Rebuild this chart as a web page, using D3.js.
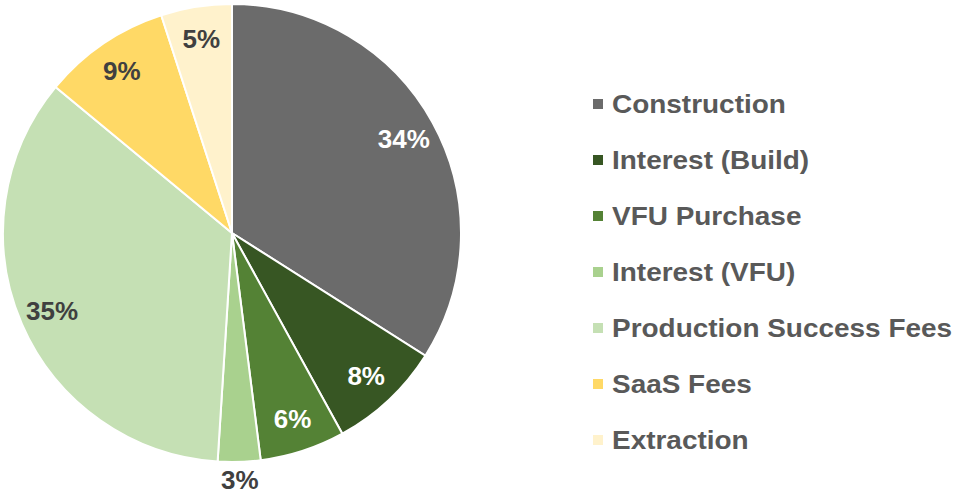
<!DOCTYPE html>
<html>
<head>
<meta charset="utf-8">
<script src="https://cdn.jsdelivr.net/npm/d3@7"></script>
<style>
  html, body { margin: 0; padding: 0; background: #fff; }
  svg { display: block; }
  text { font-family: "Liberation Sans", Arial, sans-serif; font-weight: bold; }
</style>
</head>
<body>
<svg id="chart" width="954" height="496"></svg>
<script>
const categories = ["Construction", "Interest (Build)", "VFU Purchase", "Interest (VFU)", "Production Success Fees", "SaaS Fees", "Extraction"];
const values = [34, 8, 6, 3, 35, 9, 5];
const colors = ["#6b6b6b", "#375623", "#548235", "#a9d18e", "#c5e0b4", "#ffd966", "#fff2cc"];
const labelColors = ["#ffffff", "#ffffff", "#ffffff", "#404040", "#404040", "#404040", "#404040"];

const svg = d3.select("#chart");
const cx = 232, cy = 233, R = 229;

const data = categories.map((c, i) => ({ name: c, value: values[i], i }));
const pie = d3.pie().value(d => d.value).sort(null);
const arcs = pie(data);
const arc = d3.arc().innerRadius(0).outerRadius(R);
const labelArc = d3.arc().innerRadius(196).outerRadius(196);
const outerLabelArc = d3.arc().innerRadius(247).outerRadius(247);

const g = svg.append("g").attr("transform", `translate(${cx},${cy})`);
g.selectAll("path").data(arcs).join("path")
  .attr("d", arc)
  .attr("fill", d => colors[d.data.i])
  .attr("stroke", "#ffffff")
  .attr("stroke-width", 2);

g.selectAll("text.lbl").data(arcs).join("text")
  .attr("class", "lbl")
  .attr("transform", d => {
    const p = d.data.value < 4 ? outerLabelArc.centroid(d) : labelArc.centroid(d);
    return `translate(${p[0]},${p[1]})`;
  })
  .attr("text-anchor", "middle")
  .attr("dominant-baseline", "central")
  .attr("font-size", 26)
  .attr("fill", d => d.data.value < 4 ? "#404040" : labelColors[d.data.i])
  .text(d => d.data.value + "%");

const color = d3.scaleOrdinal().domain(categories).range(colors);
const yLeg = d3.scalePoint().domain(categories).range([104, 440]);
const leg = svg.append("g");
const rows = leg.selectAll("g").data(categories).join("g")
  .attr("transform", d => `translate(0,${yLeg(d)})`);
rows.append("rect")
  .attr("x", 593).attr("y", -5).attr("width", 10).attr("height", 10)
  .attr("fill", d => color(d));
rows.append("text")
  .attr("transform", "translate(612,0) scale(1.075,1)")
  .attr("dominant-baseline", "central")
  .attr("font-size", 26)
  .attr("fill", "#595959")
  .text(d => d);
</script>
</body>
</html>
